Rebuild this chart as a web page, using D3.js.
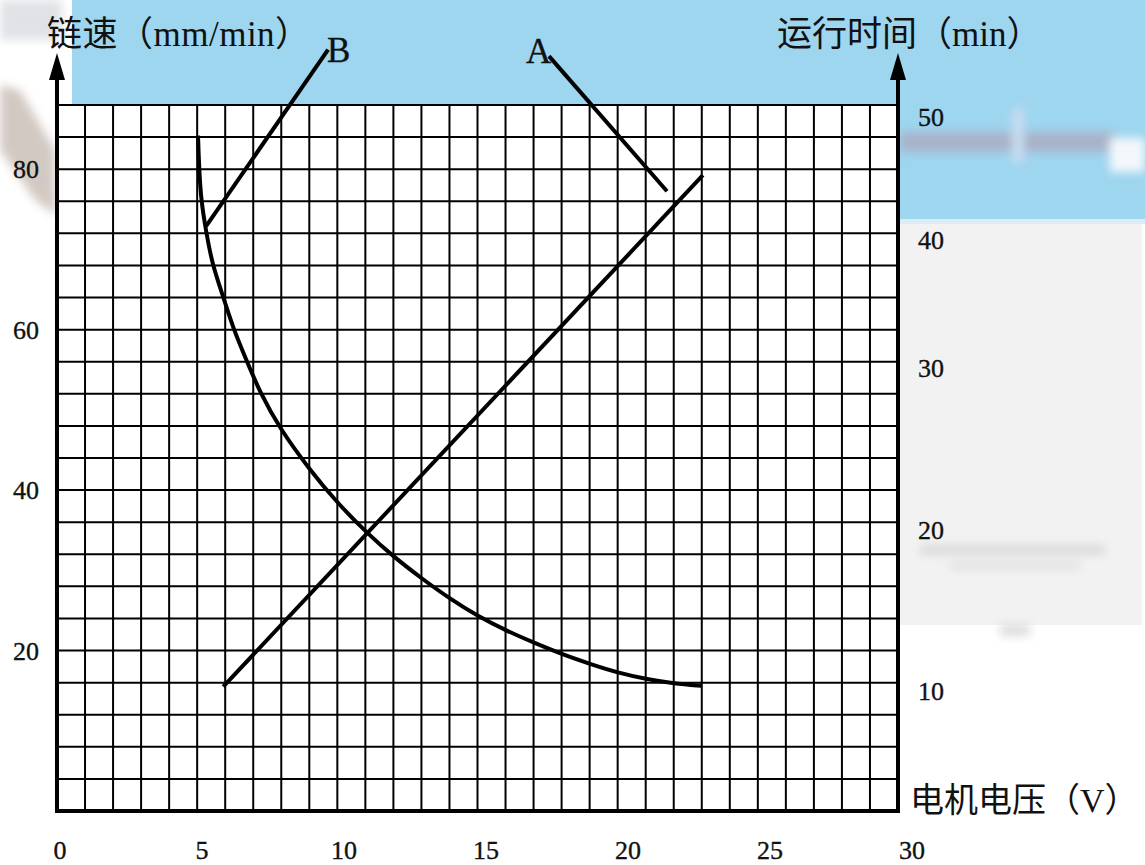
<!DOCTYPE html>
<html>
<head>
<meta charset="utf-8">
<script src="https://cdn.jsdelivr.net/npm/d3@7"></script>
<style>
  body { margin: 0; background: #fff; }
  text { font-family: "Liberation Serif", "Noto Sans CJK SC", serif; fill: #111; }
  text.num { stroke: #111; stroke-width: 0.35px; }
</style>
</head>
<body>
<div id="chart"></div>
<script>
// voltage (V) on x, chain speed (mm/min) on the left axis
const xTicks = [0, 5, 10, 15, 20, 25, 30];
const leftTicks = [20, 40, 60, 80];
const rightTicks = [10, 20, 30, 40, 50];

// curve B: chain speed vs voltage
const curveBVolt  = [5.03, 5.03, 5.07, 5.14, 5.32, 5.54, 5.93, 6.29, 6.77, 7.25, 7.96, 9.0, 10.0, 11.04, 12.0, 13.04, 14.04, 15.0, 16.07, 17.0, 18.04, 19.04, 20.04, 21.07, 22.0, 23.0, 23.0];
const curveBValue = [84.2, 84.2, 80.1, 76.1, 72.2, 68.1, 64.1, 60.1, 56.1, 52.1, 47.6, 42.6, 38.4, 34.7, 31.7, 28.9, 26.4, 24.3, 22.4, 21.0, 19.5, 18.3, 17.2, 16.4, 15.9, 15.6, 15.6];

// line A: straight line
const lineAVolt  = [5.93, 23.04];
const lineAValue = [15.5, 79.25];

// leader lines for labels (label end first)
const leaderBVolt  = [9.67, 5.32];
const leaderBValue = [94.9, 72.9];
const leaderAVolt  = [17.55, 21.76];
const leaderAValue = [94.1, 77.25];

const W = 1145, H = 865;
const svg = d3.select("#chart").append("svg").attr("width", W).attr("height", H);

const x = d3.scaleLinear().domain([0, 30]).range([57, 898]);
const y = d3.scaleLinear().domain([0, 88]).range([811, 105]);
// tick labels sit a little right of their grid lines in the original
const xLabel = d3.scaleLinear().domain([0, 30]).range([x(0) + 3, x(30) + 14]);
// right axis is unevenly spaced in the original: piecewise scale onto left units
const yRight = d3.scaleLinear().domain([10, 20, 30, 40, 50]).range([15.0, 35.0, 55.2, 71.2, 86.5].map(y));

// --- scanned background artifacts ---
const defs = svg.append("defs");
defs.append("filter").attr("id", "blur").append("feGaussianBlur").attr("stdDeviation", 5);

svg.append("rect").attr("x", 72).attr("y", 0).attr("width", W - 72).attr("height", y(88)).attr("fill", "#9ed5ef");
svg.append("rect").attr("x", x(30)).attr("y", 0).attr("width", W - x(30)).attr("height", 221).attr("fill", "#9ed5ef");
svg.append("rect").attr("x", x(30)).attr("y", 221).attr("width", 244).attr("height", 404).attr("fill", "#f2f2f2");
svg.append("rect").attr("x", x(30)).attr("y", 219).attr("width", W - x(30)).attr("height", 5).attr("fill", "#dcecf5");

const smudge = svg.append("g").attr("filter", "url(#blur)");
smudge.append("rect").attr("x", 900).attr("y", 132).attr("width", 215).attr("height", 20).attr("fill", "#a9b2c9");
smudge.append("rect").attr("x", 1110).attr("y", 138).attr("width", 35).attr("height", 34).attr("fill", "#f4f8fb");
smudge.append("rect").attr("x", 1012).attr("y", 108).attr("width", 12).attr("height", 55).attr("fill", "#c8dcf0");
smudge.append("rect").attr("x", 920).attr("y", 545).attr("width", 185).attr("height", 10).attr("fill", "#dadada");
smudge.append("rect").attr("x", 950).attr("y", 562).attr("width", 130).attr("height", 8).attr("fill", "#e0e0e0");
smudge.append("rect").attr("x", 1000).attr("y", 624).attr("width", 30).attr("height", 12).attr("fill", "#dddddd");
smudge.append("rect").attr("x", 0).attr("y", 0).attr("width", 62).attr("height", 40).attr("fill", "#e0e2e6");
smudge.append("path").attr("d", "M0,85 L20,90 L55,150 L56,215 L35,200 L0,150 Z").attr("fill", "#d3c9c3");

// --- grid ---
svg.append("rect").attr("x", x(0)).attr("y", y(88)).attr("width", x(30) - x(0)).attr("height", y(0) - y(88)).attr("fill", "#fff");

const grid = svg.append("g").attr("stroke", "#000").attr("stroke-width", 2);
grid.selectAll("line.v").data(d3.range(1, 30)).join("line")
  .attr("class", "v")
  .attr("x1", d => x(d)).attr("x2", d => x(d))
  .attr("y1", y(0)).attr("y2", y(88));
grid.selectAll("line.h").data(d3.range(4, 89, 4)).join("line")
  .attr("class", "h")
  .attr("x1", x(0)).attr("x2", x(30))
  .attr("y1", d => y(d)).attr("y2", d => y(d));

// --- axes with arrows ---
const axes = svg.append("g").attr("stroke", "#000").attr("stroke-width", 4);
axes.append("line").attr("x1", x(0) - 2).attr("x2", x(30) + 2).attr("y1", y(0)).attr("y2", y(0));
[x(0), x(30)].forEach(ax => {
  axes.append("line").attr("x1", ax).attr("x2", ax).attr("y1", y(0) + 2).attr("y2", y(88) - 30);
  svg.append("path")
    .attr("d", `M${ax},${y(88) - 52} L${ax - 8},${y(88) - 25} L${ax + 8},${y(88) - 25} Z`)
    .attr("fill", "#000");
});

// --- tick labels ---
svg.selectAll("text.xt").data(xTicks).join("text")
  .attr("class", "xt num")
  .attr("x", d => xLabel(d)).attr("y", 859)
  .attr("text-anchor", "middle").attr("font-size", 26)
  .text(d => d);

svg.selectAll("text.lt").data(leftTicks).join("text")
  .attr("class", "lt num")
  .attr("x", 39).attr("y", d => y(d) + 9)
  .attr("text-anchor", "end").attr("font-size", 26)
  .text(d => d);

svg.selectAll("text.rt").data(rightTicks).join("text")
  .attr("class", "rt num")
  .attr("x", 918).attr("y", d => yRight(d) + 9)
  .attr("font-size", 26)
  .text(d => d);

// --- axis titles ---
svg.append("text").attr("x", 47).attr("y", 46).attr("font-size", 35).attr("letter-spacing", 0.5).text("链速（mm/min）");
svg.append("text").attr("x", 777).attr("y", 46).attr("font-size", 35).text("运行时间（min）");
svg.append("text").attr("x", 910).attr("y", 812).attr("font-size", 34).text("电机电压（V）");

// --- series ---
const smooth = d3.line().x(d => x(d[0])).y(d => y(d[1])).curve(d3.curveBasis);
svg.append("path")
  .datum(d3.zip(curveBVolt, curveBValue))
  .attr("d", smooth)
  .attr("fill", "none").attr("stroke", "#000").attr("stroke-width", 4);

const straight = d3.line().x(d => x(d[0])).y(d => y(d[1]));
[[lineAVolt, lineAValue], [leaderBVolt, leaderBValue], [leaderAVolt, leaderAValue]].forEach(([vx, vy]) => {
  svg.append("path")
    .datum(d3.zip(vx, vy))
    .attr("d", straight)
    .attr("fill", "none").attr("stroke", "#000").attr("stroke-width", 4);
});

svg.append("text").attr("class", "num").attr("x", x(leaderBVolt[0]) - 1).attr("y", 62).attr("font-size", 35).text("B");
svg.append("text").attr("class", "num").attr("x", x(leaderAVolt[0]) - 23).attr("y", 63).attr("font-size", 35).text("A");
</script>
</body>
</html>
